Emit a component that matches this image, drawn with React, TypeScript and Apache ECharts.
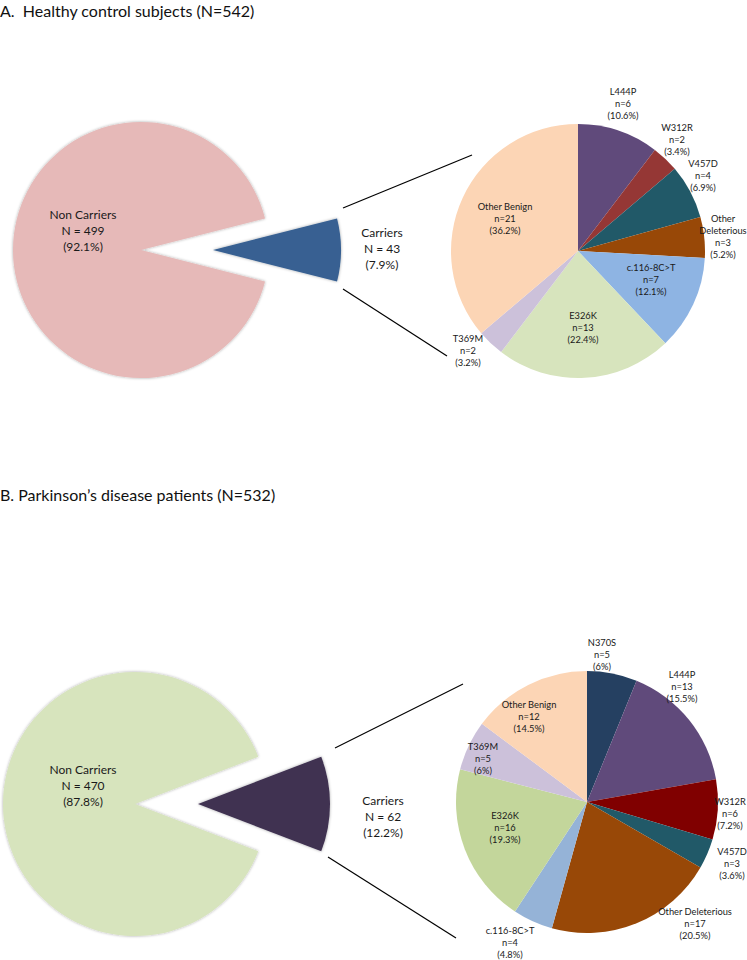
import React, { useEffect, useRef } from "react";
import * as echarts from "echarts";

// ---------- Data ----------
const titleA = "A.  Healthy control subjects (N=542)";
const titleB = "B. Parkinson\u2019s disease patients (N=532)";

const overviewNames = ["Carriers", "Non Carriers"];
const overviewCountsA = [43, 499];
const overviewPctA = ["7.9%", "92.1%"];
const overviewCountsB = [62, 470];
const overviewPctB = ["12.2%", "87.8%"];

const mutationNamesA = ["L444P", "W312R", "V457D", "Other Deleterious", "c.116-8C>T", "E326K", "T369M", "Other Benign"];
const mutationCountsA = [6, 2, 4, 3, 7, 13, 2, 21];
const mutationPctA = ["10.6%", "3.4%", "6.9%", "5.2%", "12.1%", "22.4%", "3.2%", "36.2%"];

const mutationNamesB = ["N370S", "L444P", "W312R", "V457D", "Other Deleterious", "c.116-8C>T", "E326K", "T369M", "Other Benign"];
const mutationCountsB = [5, 13, 6, 3, 17, 4, 16, 5, 12];
const mutationPctB = ["6%", "15.5%", "7.2%", "3.6%", "20.5%", "4.8%", "19.3%", "6%", "14.5%"];

// ---------- Styles / layout ----------
const overviewColorsA = ["#376092", "#e6b9b8"];
const overviewColorsB = ["#3f3151", "#d7e4bd"];
const mutationColorsA = ["#604a7b", "#953735", "#215968", "#984807", "#8eb4e3", "#d7e4bd", "#ccc1da", "#fcd5b5"];
const mutationColorsB = ["#254061", "#604a7b", "#800000", "#215968", "#984807", "#95b3d7", "#c3d69b", "#ccc1da", "#fcd5b5"];

const FONT = "Lato, 'Open Sans', sans-serif";

// label anchors relative to each pie centre
const overviewLabelOffA = [[241, -2], [-58, -20]];
const overviewLabelOffB = [[248, 12], [-52, -19]];
const mutationLabelOffA = [[45, -148], [99, -112], [125, -76], [145, -15], [73, 28], [5, 76], [-110, 99], [-73, -33]];
const mutationLabelOffB = [[15, -148], [95, -116], [143, 11], [145, 61], [108, 121], [-77, 140], [-82, 25], [-104, -44], [-58, -86]];

const pieA = { center: [141, 250], r: 128, offset: 72 };
const pieB = { center: [135, 804], r: 132, offset: 63 };
const subA = { center: [578, 251], r: 127 };
const subB = { center: [587, 802], r: 131 };

function makeLayout(center: number[], offs: number[][]) {
  return (p: any) => ({
    x: center[0] + offs[p.dataIndex][0],
    y: center[1] + offs[p.dataIndex][1],
    align: "center",
    verticalAlign: "middle",
  });
}

// draws only the slice with index `which`; the other slice is left invisible
function overviewSeries(pie: any, counts: number[], pcts: string[], colors: string[], offs: number[][], which: number) {
  const half = (counts[0] / (counts[0] + counts[1])) * 180;
  const shift = which === 0 ? pie.offset : 0;
  const center = [pie.center[0] + shift, pie.center[1]];
  return {
    type: "pie",
    silent: true,
    center,
    radius: pie.r,
    startAngle: half,
    avoidLabelOverlap: false,
    emphasis: { disabled: true },
    label: {
      show: true,
      position: "inside",
      color: "#1a1a1a",
      fontFamily: FONT,
      fontSize: 12,
      lineHeight: 16,
      formatter: (p: any) => `${overviewNames[p.dataIndex]}\nN = ${counts[p.dataIndex]}\n(${pcts[p.dataIndex]})`,
    },
    labelLine: { show: false },
    labelLayout: makeLayout(pie.center, offs),
    data: overviewNames.map((n, i) => ({
      name: n,
      value: counts[i],
      label: { show: i === which },
      itemStyle:
        i === which
          ? { color: colors[i], borderWidth: 0, shadowBlur: 3, shadowColor: "rgba(0,0,0,0.35)" }
          : { color: "rgba(0,0,0,0)", borderWidth: 0 },
    })),
  };
}

function mutationSeries(pie: any, names: string[], counts: number[], pcts: string[], colors: string[], offs: number[][], wrapOther: boolean) {
  return {
    type: "pie",
    silent: true,
    center: pie.center,
    radius: pie.r,
    startAngle: 90,
    avoidLabelOverlap: false,
    emphasis: { disabled: true },
    itemStyle: { borderWidth: 0 },
    label: {
      show: true,
      position: "inside",
      color: "#1a1a1a",
      fontFamily: FONT,
      fontSize: 9.3,
      lineHeight: 12,
      formatter: (p: any) => {
        const nm = names[p.dataIndex];
        const shown = wrapOther && nm === "Other Deleterious" ? "Other\nDeleterious" : nm;
        return `${shown}\nn=${counts[p.dataIndex]}\n(${pcts[p.dataIndex]})`;
      },
    },
    labelLine: { show: false },
    labelLayout: makeLayout(pie.center, offs),
    data: names.map((n, i) => ({ name: n, value: counts[i], itemStyle: { color: colors[i] } })),
  };
}

export default function App() {
  const ref = useRef<HTMLDivElement>(null);
  useEffect(() => {
    if (!ref.current) return;
    const chart = echarts.init(ref.current, undefined, { renderer: "svg" });
    const lineStyle = { stroke: "#000", lineWidth: 1.2 };
    chart.setOption({
      animation: false,
      backgroundColor: "#ffffff",
      series: [
        overviewSeries(pieA, overviewCountsA, overviewPctA, overviewColorsA, overviewLabelOffA, 1),
        overviewSeries(pieA, overviewCountsA, overviewPctA, overviewColorsA, overviewLabelOffA, 0),
        mutationSeries(subA, mutationNamesA, mutationCountsA, mutationPctA, mutationColorsA, mutationLabelOffA, true),
        overviewSeries(pieB, overviewCountsB, overviewPctB, overviewColorsB, overviewLabelOffB, 1),
        overviewSeries(pieB, overviewCountsB, overviewPctB, overviewColorsB, overviewLabelOffB, 0),
        mutationSeries(subB, mutationNamesB, mutationCountsB, mutationPctB, mutationColorsB, mutationLabelOffB, false),
      ],
      graphic: [
        { type: "text", x: 0, y: 10, style: { text: titleA, font: `16px ${FONT}`, fill: "#111", verticalAlign: "middle" } },
        { type: "text", x: 0, y: 494, style: { text: titleB, font: `16px ${FONT}`, fill: "#111", verticalAlign: "middle" } },
        { type: "line", shape: { x1: 343, y1: 208, x2: 472, y2: 155 }, style: lineStyle },
        { type: "line", shape: { x1: 343, y1: 289, x2: 447, y2: 356 }, style: lineStyle },
        { type: "line", shape: { x1: 335, y1: 748, x2: 463, y2: 684 }, style: lineStyle },
        { type: "line", shape: { x1: 328, y1: 857, x2: 456, y2: 938 }, style: lineStyle },
      ],
    });
    return () => chart.dispose();
  }, []);
  return <div ref={ref} style={{ position: "absolute", left: 0, top: 0, width: 747, height: 960 }} />;
}
